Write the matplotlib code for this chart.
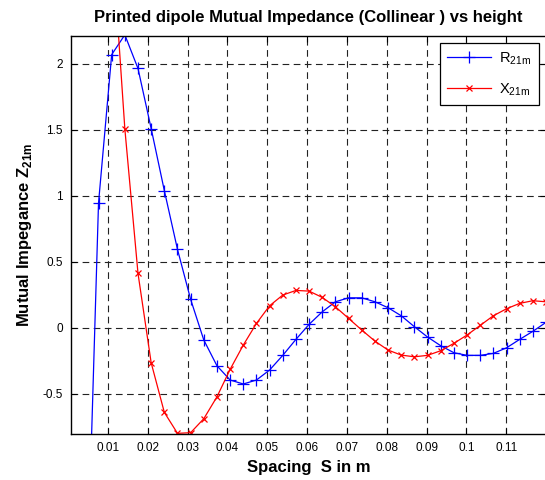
import matplotlib
matplotlib.use('Agg')
import matplotlib.pyplot as plt
import numpy as np

plt.rcParams['font.family'] = ['Liberation Sans', 'DejaVu Sans']
plt.rcParams['mathtext.fontset'] = 'custom'
plt.rcParams['mathtext.rm'] = 'Liberation Sans'
plt.rcParams['mathtext.bf'] = 'Liberation Sans:bold'

# spacing samples (m)
spacing = np.linspace(0.001, 0.12, 37)

# mutual resistance R21m
r21m = [-3.5, -2.4, 0.945, 2.07, 2.22, 1.965, 1.51, 1.04, 0.594, 0.215,
        -0.093, -0.288, -0.396, -0.426, -0.396, -0.32, -0.209, -0.088, 0.026,
        0.121, 0.197, 0.227, 0.227, 0.197, 0.152, 0.091, 0.008, -0.070,
        -0.136, -0.189, -0.209, -0.209, -0.194, -0.152, -0.088, -0.027, 0.041]

# mutual reactance X21m
x21m = [12.0, 7.0, 4.5, 2.98, 1.508, 0.412, -0.265, -0.641, -0.80, -0.795,
        -0.689, -0.523, -0.315, -0.131, 0.033, 0.167, 0.248, 0.283, 0.278,
        0.23, 0.159, 0.071, -0.017, -0.101, -0.169, -0.207, -0.22, -0.209,
        -0.174, -0.118, -0.055, 0.018, 0.091, 0.144, 0.185, 0.205, 0.197]

xticks = [0.01, 0.02, 0.03, 0.04, 0.05, 0.06, 0.07, 0.08, 0.09, 0.1, 0.11]
xtick_labels = ['0.01', '0.02', '0.03', '0.04', '0.05', '0.06', '0.07',
                '0.08', '0.09', '0.1', '0.11']
yticks = [-0.5, 0, 0.5, 1, 1.5, 2]
ytick_labels = ['-0.5', '0', '0.5', '1', '1.5', '2']

fig = plt.figure(figsize=(5.45, 4.8), dpi=100)
ax = fig.add_axes([71 / 545, 1 - 434 / 480, 475 / 545, (434 - 35.5) / 480])

ax.plot(spacing, r21m, color='blue', lw=0.9, marker='+', ms=8, mew=0.9,
        label=r'R$_{\mathrm{21m}}$')
ax.plot(spacing, x21m, color='red', lw=0.9, marker='x', ms=4, mew=0.9,
        label=r'X$_{\mathrm{21m}}$')

ax.set_xlim(0.0007, 0.12)
ax.set_ylim(-0.805, 2.215)
ax.set_xticks(xticks)
ax.set_xticklabels(xtick_labels)
ax.set_yticks(yticks)
ax.set_yticklabels(ytick_labels)
ax.tick_params(direction='in', length=4, width=0.8, labelsize=8.5,
               top=True, right=True, pad=6)

ax.grid(True, color='#222222', lw=0.8, linestyle=(0, (6, 4)))
for s in ax.spines.values():
    s.set_linewidth(1.0)

ax.set_title('Printed dipole Mutual Impedance (Collinear ) vs height',
             fontsize=12, fontweight='bold', pad=10)
ax.set_xlabel('Spacing  S in m', fontsize=12, fontweight='bold', labelpad=4)
ax.set_ylabel(r'Mutual Impegance $\mathbf{Z}_{\mathbf{21m}}$', fontsize=12,
              fontweight='bold', labelpad=6)

leg = ax.legend(loc='upper right', fontsize=10.5, fancybox=False,
                edgecolor='black', framealpha=1, handlelength=3.0,
                borderaxespad=0.5, labelspacing=1.0, borderpad=0.5,
                handletextpad=0.6)
leg.get_frame().set_linewidth(0.9)

fig.savefig('out.png', dpi=100)
